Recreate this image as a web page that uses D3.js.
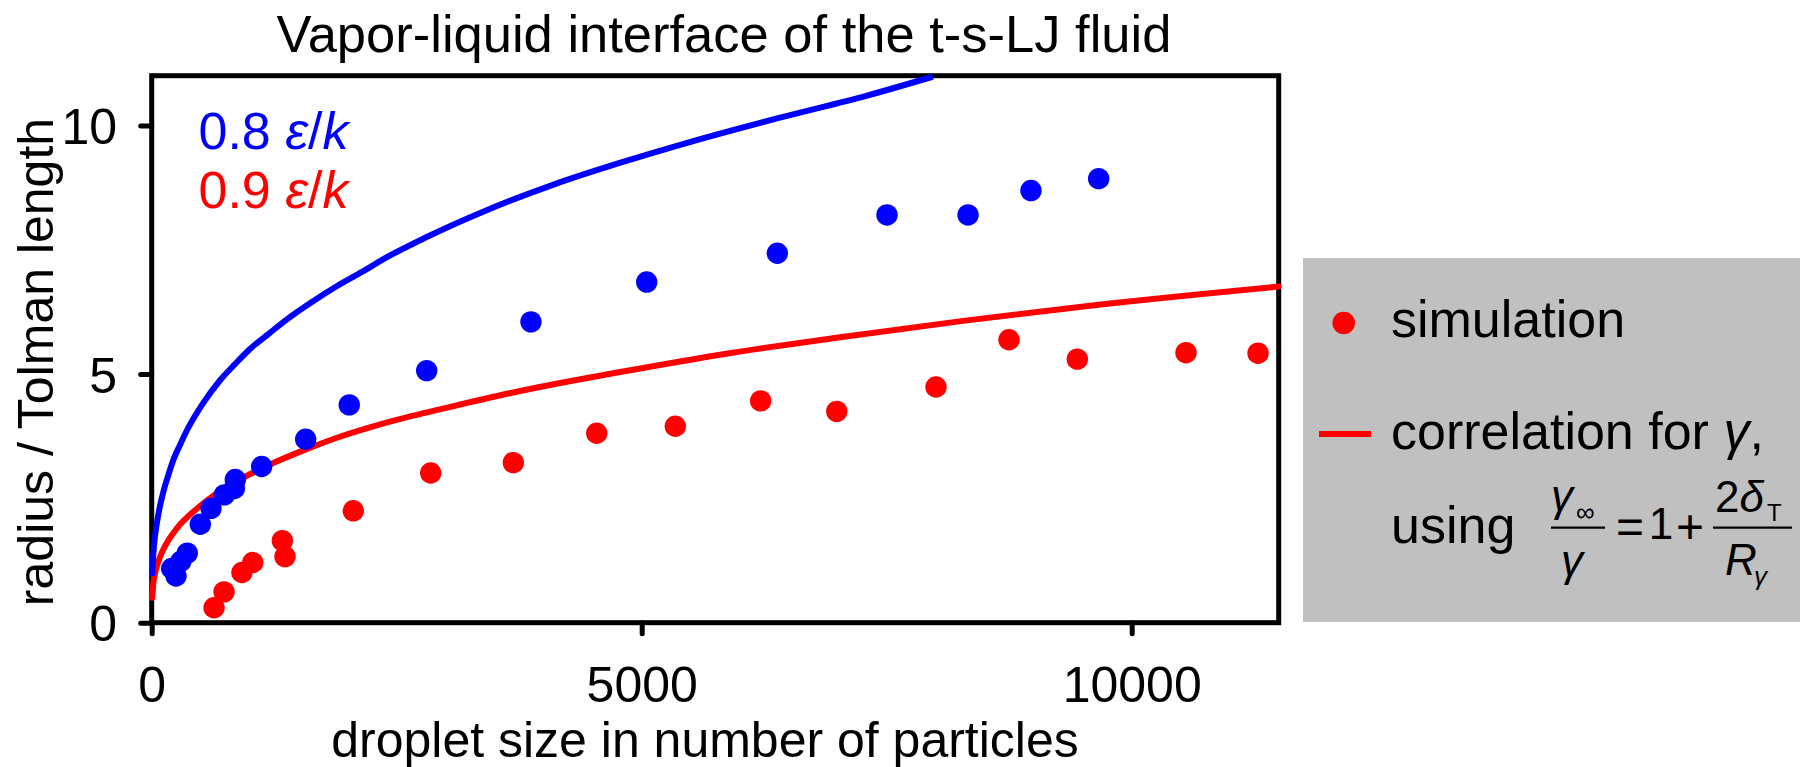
<!DOCTYPE html>
<html><head><meta charset="utf-8">
<script src="https://cdn.jsdelivr.net/npm/d3@7"></script>
<style>
body{margin:0;background:#fff}
svg{display:block}
text{font-family:"Liberation Sans",Arial,Helvetica,sans-serif}
</style></head>
<body><svg id="c" width="1800" height="767"></svg>
<script>
// ---- data ----
const title = "Vapor-liquid interface of the t-s-LJ fluid";
const xLabel = "droplet size in number of particles";
const yLabel = "radius / Tolman length";
const xTicks = [0, 5000, 10000];
const yTicks = [0, 5, 10];

// simulation points, T = 0.8 eps/k (blue)
const blueX = [204, 248, 296, 363, 496, 605, 741, 843, 853, 1122, 1571, 2016, 2806, 3870, 5051, 6384, 7503, 8330, 8972, 9663];
const blueY = [1.09, 0.94, 1.23, 1.40, 1.98, 2.30, 2.57, 2.70, 2.88, 3.14, 3.69, 4.38, 5.07, 6.05, 6.85, 7.43, 8.20, 8.20, 8.69, 8.93];

// simulation points, T = 0.9 eps/k (red)
const redX = [636, 738, 921, 1031, 1333, 1360, 2057, 2847, 3690, 4541, 5343, 6214, 6990, 8003, 8748, 9445, 10554, 11289];
const redY = [0.30, 0.62, 1.01, 1.21, 1.65, 1.33, 2.25, 3.01, 3.22, 3.81, 3.95, 4.46, 4.25, 4.74, 5.69, 5.30, 5.43, 5.42];

// correlation curves
const blueCurveX = [5, 10, 25, 50, 85, 120, 170, 220, 290, 360, 440, 530, 700, 850, 1000, 1200, 1400, 1650, 1900, 2150, 2400, 2800, 3400, 4100, 4800, 5500, 6400, 7300, 7970];
const blueCurveY = [0.94, 1.17, 1.58, 1.97, 2.35, 2.64, 2.97, 3.27, 3.58, 3.87, 4.15, 4.43, 4.88, 5.20, 5.50, 5.82, 6.13, 6.47, 6.78, 7.06, 7.35, 7.75, 8.28, 8.81, 9.26, 9.67, 10.15, 10.60, 10.98];
const redCurveX = [5, 16, 40, 85, 150, 220, 300, 390, 560, 720, 900, 1240, 1580, 1920, 2260, 2600, 2940, 3760, 4780, 5800, 6950, 8280, 9640, 11500];
const redCurveY = [0.50, 0.78, 1.04, 1.32, 1.59, 1.80, 2.00, 2.17, 2.45, 2.68, 2.88, 3.21, 3.49, 3.74, 3.95, 4.13, 4.29, 4.66, 5.04, 5.39, 5.72, 6.07, 6.39, 6.76];

// ---- drawing ----
const svg = d3.select("#c");
const FONT = '"Liberation Sans",Arial,Helvetica,sans-serif';
const BLUE = "#0000ff", RED = "#ff0000";

const x = d3.scaleLinear().domain([0, 11500]).range([151.7, 1278.7]);
const y = d3.scaleLinear().domain([0, 11]).range([622.7, 75.7]);

svg.append("rect").attr("width", 1800).attr("height", 767).attr("fill", "#fff");

// title
svg.append("text").attr("x", 724).attr("y", 52).attr("text-anchor", "middle")
  .attr("font-size", 52.5).text(title);

// axes
const gy = svg.append("g").attr("transform", `translate(${x(0)},0)`)
  .call(d3.axisLeft(y).tickValues(yTicks).tickSize(11).tickPadding(23.7).tickFormat(d3.format("d")));
const gx = svg.append("g").attr("transform", `translate(0,${y(0)})`)
  .call(d3.axisBottom(x).tickValues(xTicks).tickSize(11).tickPadding(33).tickFormat(d3.format("d")));
[gx, gy].forEach(g => {
  g.attr("font-size", 50).attr("font-family", FONT);
  g.select(".domain").remove();
  g.selectAll(".tick line").attr("stroke", "#000").attr("stroke-width", 5).attr("stroke-linecap", "round");
  g.selectAll(".tick text").attr("fill", "#000");
});
gy.selectAll(".tick text").attr("dy", "0.36em");

// frame
svg.append("rect")
  .attr("x", x(0)).attr("y", y(11))
  .attr("width", x(11500) - x(0)).attr("height", y(0) - y(11))
  .attr("fill", "none").attr("stroke", "#000").attr("stroke-width", 5);

// axis titles
svg.append("text").attr("x", 705).attr("y", 757).attr("text-anchor", "middle")
  .attr("font-size", 50).text(xLabel);
svg.append("text").attr("transform", "translate(53,362) rotate(-90)")
  .attr("text-anchor", "middle").attr("font-size", 50).text(yLabel);

// curves
const line = (xs, ys) => d3.line()
  .x((d, i) => x(xs[i])).y((d, i) => y(ys[i]))
  .curve(d3.curveMonotoneX)(xs);
svg.append("path").attr("d", line(redCurveX, redCurveY))
  .attr("fill", "none").attr("stroke", RED).attr("stroke-width", 6).attr("stroke-linecap", "round");
svg.append("path").attr("d", line(blueCurveX, blueCurveY))
  .attr("fill", "none").attr("stroke", BLUE).attr("stroke-width", 6);

// points
svg.append("g").selectAll("circle").data(blueX).join("circle")
  .attr("cx", (d) => x(d)).attr("cy", (d, i) => y(blueY[i])).attr("r", 10.7).attr("fill", BLUE);
svg.append("g").selectAll("circle").data(redX).join("circle")
  .attr("cx", (d) => x(d)).attr("cy", (d, i) => y(redY[i])).attr("r", 10.7).attr("fill", RED);

// temperature labels
function tempLabel(val, yy, col) {
  const t = svg.append("text").attr("x", 198.5).attr("y", yy).attr("font-size", 52).attr("fill", col);
  t.append("tspan").text(val + " ");
  t.append("tspan").attr("font-style", "italic").text("ε");
  t.append("tspan").text("/");
  t.append("tspan").attr("font-style", "italic").text("k");
}
tempLabel("0.8", 149, BLUE);
tempLabel("0.9", 208, RED);

// legend
const lg = svg.append("g");
lg.append("rect").attr("x", 1303).attr("y", 258).attr("width", 497).attr("height", 364).attr("fill", "#c0c0c0");
lg.append("circle").attr("cx", 1343.7).attr("cy", 323).attr("r", 11.3).attr("fill", RED);
lg.append("text").attr("x", 1391).attr("y", 337).attr("font-size", 52).text("simulation");
lg.append("line").attr("x1", 1319).attr("x2", 1371).attr("y1", 434).attr("y2", 434)
  .attr("stroke", RED).attr("stroke-width", 6);
const ct = lg.append("text").attr("x", 1391).attr("y", 449).attr("font-size", 52);
ct.append("tspan").text("correlation for ");
ct.append("tspan").attr("font-style", "italic").text("γ");
ct.append("tspan").text(",");
lg.append("text").attr("x", 1391).attr("y", 543).attr("font-size", 52).text("using");

// formula  gamma_inf / gamma = 1 + 2 delta_T / R_gamma
const f = lg.append("g").attr("font-size", 44);
f.append("text").attr("x", 1551).attr("y", 511).attr("font-style", "italic").text("γ");
f.append("text").attr("x", 1576).attr("y", 521).attr("font-size", 26).text("∞");
f.append("line").attr("x1", 1551).attr("x2", 1605).attr("y1", 527.7).attr("y2", 527.7).attr("stroke", "#000").attr("stroke-width", 2.3);
f.append("text").attr("x", 1561).attr("y", 576).attr("font-style", "italic").text("γ");
f.append("text").attr("x", 1630).attr("y", 543).attr("text-anchor", "middle").attr("font-size", 48).text("=");
f.append("text").attr("x", 1661).attr("y", 539).attr("text-anchor", "middle").text("1");
f.append("text").attr("x", 1690).attr("y", 543).attr("text-anchor", "middle").attr("font-size", 48).text("+");
const num = f.append("text").attr("x", 1715).attr("y", 512).attr("font-size", 44);
num.append("tspan").text("2");
num.append("tspan").attr("font-style", "italic").text("δ");
f.append("text").attr("x", 1767).attr("y", 521).attr("font-size", 24).text("T");
f.append("line").attr("x1", 1713).attr("x2", 1792).attr("y1", 527.7).attr("y2", 527.7).attr("stroke", "#000").attr("stroke-width", 2.3);
f.append("text").attr("x", 1725).attr("y", 575).attr("font-style", "italic").text("R");
f.append("text").attr("x", 1754).attr("y", 585).attr("font-size", 26).attr("font-style", "italic").text("γ");
</script>
</body></html>
